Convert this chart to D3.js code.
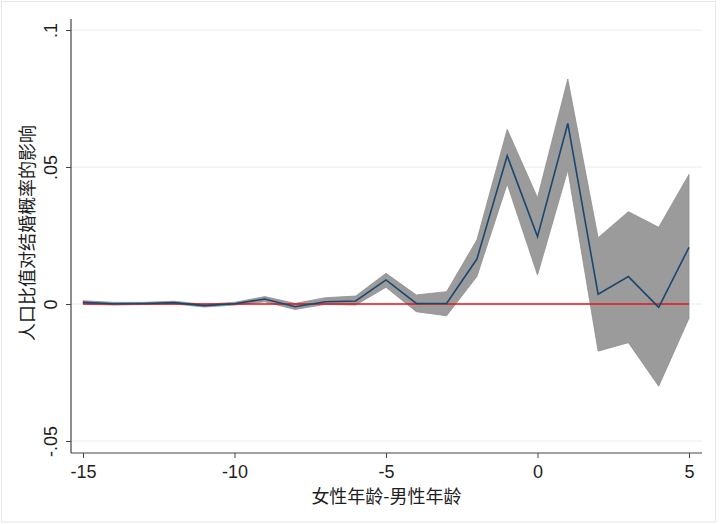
<!DOCTYPE html>
<html><head><meta charset="utf-8">
<script src="https://cdn.jsdelivr.net/npm/d3@7"></script>
<style>body{margin:0;background:#fff}svg{display:block}</style>
</head><body>
<script>
const ageDiff = [-15,-14,-13,-12,-11,-10,-9,-8,-7,-6,-5,-4,-3,-2,-1,0,1,2,3,4,5];
const effect  = [0.0006,0.0001,0.0002,0.0005,-0.0006,0.0001,0.0018,-0.0010,0.0008,0.0011,0.0088,0.0002,0.0002,0.0164,0.0541,0.0246,0.0659,0.0036,0.0100,-0.0012,0.0207];
const upper   = [0.0012,0.0006,0.0006,0.0010,-0.0001,0.0006,0.0027,0.0002,0.0023,0.0029,0.0112,0.0033,0.0045,0.0234,0.0637,0.0388,0.0821,0.0242,0.0337,0.0280,0.0473];
const lower   = [0.0000,-0.0004,-0.0002,0.0000,-0.0011,-0.0004,0.0008,-0.0020,-0.0001,-0.0004,0.0061,-0.0028,-0.0043,0.0100,0.0438,0.0106,0.0489,-0.0172,-0.0141,-0.0300,-0.0052];
const yTicks = [-0.05, 0, 0.05, 0.1];
const yTickLabels = ["-.05", "0", ".05", ".1"];
const xTicks = [-15, -10, -5, 0, 5];
const xTitle = "女性年龄-男性年龄";
const yTitle = "人口比值对结婚概率的影响";

(function () {
const W = 720, H = 524;
const svg = d3.select("body").append("svg").attr("width", W).attr("height", H);
svg.append("rect").attr("x",1.5).attr("y",1.5).attr("width",714).attr("height",520.5)
  .attr("fill","#fff").attr("stroke","#e6e6e6");

const pL = 71, pR = 702, pT = 19, pB = 453;
const x = d3.scaleLinear().domain([-15, 5]).range([83, 689]);
const y = d3.scaleLinear().domain([0, 0.05]).range([304, 167]);
const numFont = "'Liberation Sans', Arial, sans-serif";
const cjkFont = "'Noto Sans CJK SC', sans-serif";

// gridlines
svg.append("g").selectAll("line").data(yTicks).join("line")
  .attr("x1", pL + 1).attr("x2", pR).attr("y1", d => y(d)).attr("y2", d => y(d))
  .attr("stroke", "#e4ecee").attr("stroke-width", 1);

const data = ageDiff.map((a, i) => ({a, e: effect[i], u: upper[i], l: lower[i]}));

// CI band
svg.append("path").datum(data)
  .attr("d", d3.area().x(d => x(d.a)).y0(d => y(d.l)).y1(d => y(d.u)))
  .attr("fill", "#9b9b9b").attr("stroke", "#8e8e8e").attr("stroke-width", 0.8);

// zero reference line
svg.append("line").attr("x1", x(-15)).attr("x2", x(5)).attr("y1", y(0)).attr("y2", y(0))
  .attr("stroke", "#e3121c").attr("stroke-width", 1.4);

// estimate line
svg.append("path").datum(data)
  .attr("d", d3.line().x(d => x(d.a)).y(d => y(d.e)))
  .attr("fill", "none").attr("stroke", "#1a476f").attr("stroke-width", 1.6);

// axes
const yAxis = d3.axisLeft(y).tickValues(yTicks).tickFormat((d, i) => yTickLabels[i]).tickSize(5).tickSizeOuter(0);
const gy = svg.append("g").attr("transform", `translate(${pL},0)`).call(yAxis);
gy.select(".domain").attr("d", `M0,${pT}V${pB}`);
gy.selectAll(".tick line").attr("stroke", "#444");
gy.selectAll(".tick text").attr("transform", "rotate(-90)").attr("x", 0).attr("y", -14)
  .attr("dy", 0).attr("text-anchor", "middle")
  .style("font-family", numFont).style("font-size", "18px").attr("fill", "#1e1e1e");

const xAxis = d3.axisBottom(x).tickValues(xTicks).tickFormat(d3.format("d")).tickSize(5).tickSizeOuter(0);
const gx = svg.append("g").attr("transform", `translate(0,${pB})`).call(xAxis);
gx.select(".domain").attr("d", `M${pL},0H${pR}`);
gx.selectAll(".tick line").attr("stroke", "#444");
gx.selectAll(".tick text").attr("y", 12).attr("dy", "0.71em")
  .style("font-family", numFont).style("font-size", "18px").attr("fill", "#1e1e1e")
  .text(d => d < 0 ? "-" + Math.abs(d) : d);
svg.selectAll(".domain").attr("stroke", "#444").attr("stroke-width", 1.2);

// titles
svg.append("text").attr("x", (pL + pR) / 2).attr("y", 503).attr("text-anchor", "middle")
  .style("font-family", cjkFont).style("font-size", "18px").attr("fill", "#1e1e1e")
  .text(xTitle);
svg.append("text").attr("transform", `translate(34,233) rotate(-90)`)
  .attr("text-anchor", "middle")
  .style("font-family", cjkFont).style("font-size", "18px").attr("fill", "#1e1e1e")
  .text(yTitle);
})();
</script>
</body></html>
